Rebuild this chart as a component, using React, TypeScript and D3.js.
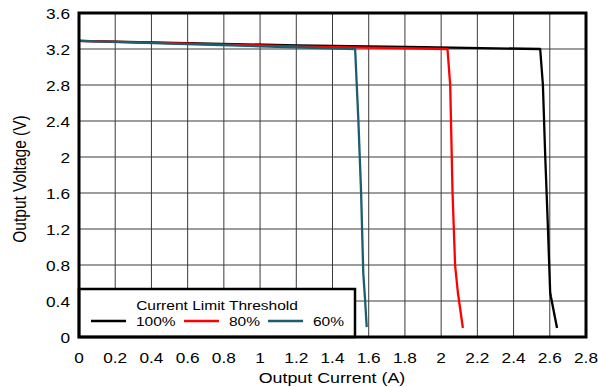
import React from "react";
import * as d3 from "d3";

const xTicks = [0, 0.2, 0.4, 0.6, 0.8, 1, 1.2, 1.4, 1.6, 1.8, 2, 2.2, 2.4, 2.6, 2.8];
const yTicks = [0, 0.4, 0.8, 1.2, 1.6, 2, 2.4, 2.8, 3.2, 3.6];

const i100 = [0, 0.6, 1.2, 1.9, 2.547, 2.562, 2.575, 2.59, 2.602, 2.606, 2.64];
const v100 = [3.29, 3.265, 3.24, 3.22, 3.2, 2.8, 2.0, 1.2, 0.5, 0.45, 0.1];
const i80 = [0, 0.6, 1.2, 1.6, 2.035, 2.05, 2.063, 2.077, 2.092, 2.12];
const v80 = [3.29, 3.26, 3.23, 3.215, 3.2, 2.8, 1.6, 0.8, 0.5, 0.1];
const i60 = [0, 0.5, 1.0, 1.525, 1.543, 1.558, 1.57, 1.58, 1.589];
const v60 = [3.29, 3.26, 3.23, 3.2, 2.4, 1.6, 0.71, 0.41, 0.11];

const seriesNames = ["100%", "80%", "60%"];
const seriesColors = ["#000000", "#ff0000", "#1b5e70"];

const W = 598, H = 387;
const L = 79, R = 586, T = 13, B = 337;
const SX = 1.15;
const font = "'Liberation Sans', Arial, sans-serif";

function T2({ x, y, anchor = "start", size = 15, rotate = 0, children }: any) {
  return (
    <text
      transform={`translate(${x},${y}) scale(${SX},1)${rotate ? ` rotate(${rotate})` : ""}`}
      textAnchor={anchor}
      fontSize={size}
      fill="#000"
    >
      {children}
    </text>
  );
}

export default function App() {
  const x = d3.scaleLinear().domain([0, 2.8]).range([L, R]);
  const y = d3.scaleLinear().domain([0, 3.6]).range([B, T]);
  const line = d3.line<[number, number]>().x(d => x(d[0])).y(d => y(d[1]));
  const series = [
    i100.map((v, k) => [v, v100[k]] as [number, number]),
    i80.map((v, k) => [v, v80[k]] as [number, number]),
    i60.map((v, k) => [v, v60[k]] as [number, number]),
  ];
  const legX = [91, 184, 268];
  return (
    <svg width={W} height={H} style={{ position: "absolute", left: 0, top: 0, background: "#fff" }} fontFamily={font}>
      <rect x={0} y={0} width={W} height={H} fill="#fff" />
      {xTicks.map(t => (
        <line key={"gx" + t} x1={x(t)} x2={x(t)} y1={T} y2={B} stroke="#3a3a3a" strokeWidth={1} />
      ))}
      {yTicks.map(t => (
        <line key={"gy" + t} x1={L} x2={R} y1={y(t)} y2={y(t)} stroke="#3a3a3a" strokeWidth={1} />
      ))}
      {series.map((s, k) => (
        <path key={k} d={line(s) || ""} fill="none" stroke={seriesColors[k]} strokeWidth={2.3} strokeLinejoin="round" />
      ))}
      <rect x={L} y={289} width={276} height={B - 289} fill="#fff" stroke="#000" strokeWidth={2.5} />
      <T2 x={217} y={310} anchor="middle" size={13.5}>Current Limit Threshold</T2>
      {seriesNames.map((n, k) => (
        <g key={n}>
          <line x1={legX[k]} x2={legX[k] + 35} y1={321} y2={321} stroke={seriesColors[k]} strokeWidth={2.3} />
          <T2 x={legX[k] + 45} y={325.5} size={13.5}>{n}</T2>
        </g>
      ))}
      <rect x={L} y={T} width={R - L} height={B - T} fill="none" stroke="#000" strokeWidth={3} />
      {xTicks.map(t => (
        <T2 key={"tx" + t} x={x(t)} y={362.5} anchor="middle">{String(t)}</T2>
      ))}
      {yTicks.map(t => (
        <T2 key={"ty" + t} x={70} y={y(t) + 6} anchor="end">{String(t)}</T2>
      ))}
      <T2 x={332} y={382.5} anchor="middle" size={15.5}>Output Current (A)</T2>
      <T2 x={26} y={179} anchor="middle" size={15.5} rotate={-90}>Output Voltage (V)</T2>
    </svg>
  );
}
